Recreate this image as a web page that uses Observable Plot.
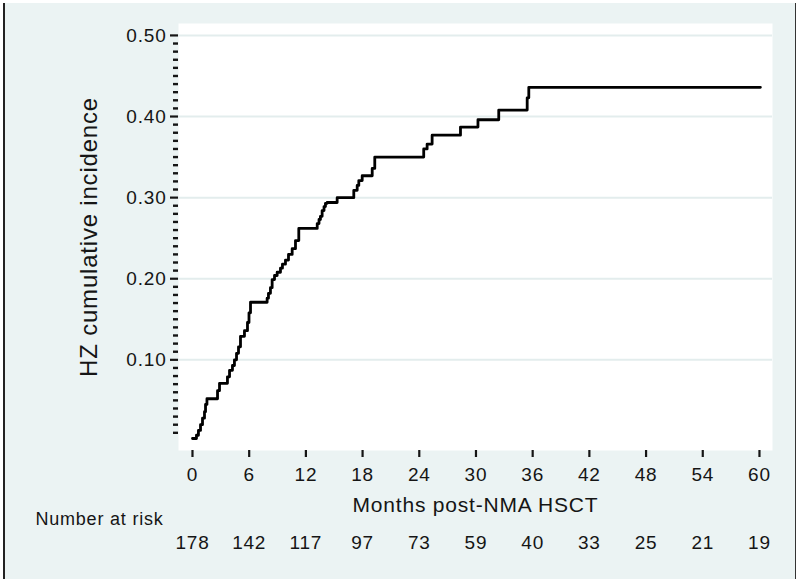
<!DOCTYPE html>
<html>
<head>
<meta charset="utf-8">
<script src="https://cdn.jsdelivr.net/npm/d3@7"></script>
<script src="https://cdn.jsdelivr.net/npm/@observablehq/plot@0.6"></script>
<style>
  html, body { margin: 0; padding: 0; background: #ffffff; }
  #wrap { position: relative; width: 800px; height: 579px; overflow: hidden; }
  #bg { position: absolute; left: 3px; top: 3px; width: 790px; height: 580px;
        background: #ebf3f3; border-left: 2px solid #222; border-right: 1.5px solid #333; }
  #chart { position: absolute; left: 0; top: 0; }
  #chart svg { font-family: "Liberation Sans", Arial, sans-serif; }
</style>
</head>
<body>
<div id="wrap"><div id="bg"></div><div id="chart"></div></div>
<script>
// Event times (months) and cumulative incidence after each step
const months = [0, 0.42, 0.63, 0.85, 1.06, 1.27, 1.38, 1.53, 2.65, 2.86, 3.70, 3.92, 4.23, 4.44, 4.66, 4.87,
  5.08, 5.50, 5.82, 5.98, 6.14, 7.90, 8.04, 8.25, 8.43, 8.68, 8.96, 9.31, 9.52, 9.84, 10.16, 10.55, 10.90,
  11.25, 13.20, 13.39, 13.54, 13.72, 13.92, 14.07, 14.25, 15.31, 17.07, 17.43, 17.60, 17.96, 19.02, 19.29,
  24.47, 24.83, 25.36, 28.36, 30.21, 32.41, 35.42, 35.59, 60.1];
const incidence = [0.003, 0.007, 0.013, 0.020, 0.028, 0.036, 0.045, 0.052, 0.062, 0.071, 0.079, 0.087, 0.093,
  0.100, 0.108, 0.116, 0.129, 0.136, 0.146, 0.158, 0.171, 0.176, 0.182, 0.189, 0.199, 0.204, 0.208, 0.213,
  0.218, 0.223, 0.230, 0.237, 0.247, 0.262, 0.268, 0.273, 0.277, 0.284, 0.289, 0.293, 0.294, 0.300, 0.309,
  0.315, 0.321, 0.327, 0.336, 0.350, 0.360, 0.366, 0.377, 0.387, 0.396, 0.408, 0.423, 0.436, 0.436];

const xTicks = [0, 6, 12, 18, 24, 30, 36, 42, 48, 54, 60];
const yTicks = [0.10, 0.20, 0.30, 0.40, 0.50];
const yMinorTicks = d3.range(0, 51).map(i => i / 100).filter(v => Math.round(v * 100) % 10 !== 0);
const atRisk = [178, 142, 117, 97, 73, 59, 40, 33, 25, 21, 19];

const xLabel = "Months post-NMA HSCT";
const yLabel = "HZ cumulative incidence";
const riskLabel = "Number at risk";

const curve = months.map((m, i) => ({m, v: incidence[i]}));
const riskRow = xTicks.map((m, i) => ({m, n: String(atRisk[i])}));

const ink = "#151515";

const chart = Plot.plot({
  width: 800,
  height: 579,
  marginLeft: 178,
  marginRight: 28,
  marginTop: 23,
  marginBottom: 129,
  style: {background: "transparent", color: ink, fontFamily: "'Liberation Sans', Arial, sans-serif"},
  x: {domain: [-1.48, 61.38]},
  y: {domain: [-0.0118, 0.5147]},
  marks: [
    Plot.frame({fill: "#ffffff", stroke: null}),
    Plot.gridY(yTicks, {stroke: "#e3eded", strokeOpacity: 1, strokeWidth: 2}),
    Plot.axisY(yMinorTicks, {tickSize: 5, tickFormat: () => "", strokeWidth: 2.4, stroke: ink, label: null}),
    Plot.axisY(yTicks, {tickSize: 8, tickPadding: 4, tickFormat: d3.format(".2f"), strokeWidth: 2.2, stroke: ink,
      fontSize: 19, line: true, label: null, fill: ink}),
    Plot.axisX(xTicks, {tickSize: 7, tickPadding: 10, strokeWidth: 2.2, stroke: ink, fontSize: 19, line: true,
      label: null, fill: ink}),
    Plot.line(curve, {x: "m", y: "v", curve: "step-after", stroke: "#000", strokeWidth: 2.8}),
    Plot.text(riskRow, {x: "m", text: "n", frameAnchor: "bottom", dy: 98, fontSize: 19, fill: ink}),
    Plot.text([xLabel], {text: d => d, frameAnchor: "bottom", dy: 61, fontSize: 21, fill: ink, textAnchor: "middle"}),
    Plot.text([riskLabel], {text: d => d, frameAnchor: "bottom-left", textAnchor: "middle", dx: -79, dy: 74,
      fontSize: 18, fill: ink}),
    Plot.text([yLabel], {text: d => d, frameAnchor: "left", textAnchor: "middle", dx: -89, rotate: -90,
      fontSize: 24, fill: ink})
  ]
});
d3.select(chart).selectAll("text").style("letter-spacing", "0.8px");
document.getElementById("chart").appendChild(chart);
</script>
</body>
</html>
